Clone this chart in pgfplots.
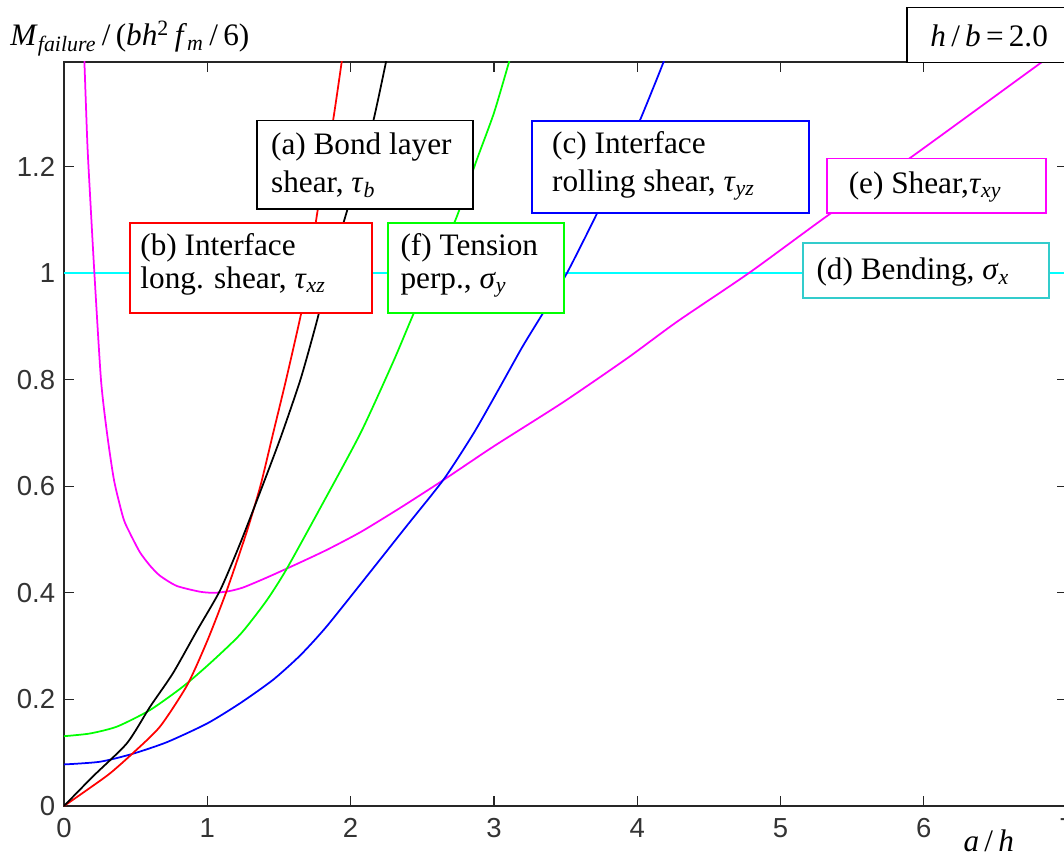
\documentclass[border=0pt]{standalone}
\usepackage{pgfplots}
\pgfplotsset{compat=1.18}
\usepackage{fontspec}
\setmainfont{Liberation Serif}
\newfontfamily\tickfont{Liberation Sans}
\newcommand\boxfont{\fontsize{12.5}{15}\selectfont}
\definecolor{mgreen}{RGB}{0,255,0}
\definecolor{mcyan}{RGB}{0,255,255}
\definecolor{mmag}{RGB}{255,0,255}
\definecolor{boxcyan}{RGB}{51,204,204}
\begin{document}
\begin{tikzpicture}
\useasboundingbox (-25.6pt,-21.2pt) rectangle (400pt,322.4pt);
\begin{axis}[
  anchor=origin, at={(0,0)},
  x=57.32pt, y=213.2pt,
  xmin=0, xmax=7, ymin=0, ymax=1.396,
  xtick={0,1,...,7},
  ytick={0,0.2,0.4,0.6,0.8,1,1.2},
  yticklabels={0,0.2,0.4,0.6,0.8,1,1.2},
  xtick pos=both, ytick pos=both,
  tick align=inside, major tick length=4pt,
  tick style={black!85, line width=0.5pt},
  axis line style={black!85, line width=0.5pt},
  ticklabel style={font=\tickfont\fontsize{11}{13}\selectfont, text=black!80},
  xticklabel style={yshift=-1.5pt},
  /pgf/number format/assume math mode=true,
  every axis plot/.append style={line width=0.7pt},
  curve/.style={smooth, tension=0.4},
  clip=true,
]
% (d) bending
\addplot[mcyan] coordinates {(0,1) (7,1)};
% (e) shear tau_xy
\addplot[mmag, curve] coordinates {
 (0.13,1.50) (0.142,1.40) (0.163,1.243) (0.181,1.15) (0.212,1.0) (0.258,0.80)
 (0.30,0.70) (0.35,0.61) (0.414,0.54) (0.46,0.512) (0.53,0.476) (0.60,0.451)
 (0.67,0.432) (0.786,0.413) (0.95,0.402) (1.05,0.40) (1.15,0.403) (1.25,0.41)
 (1.41,0.428) (1.60,0.451) (1.83,0.48) (2.07,0.514) (2.35,0.56) (2.65,0.612)
 (3.0,0.675) (3.48,0.757) (3.93,0.84) (4.28,0.909) (4.78,1.0) (5.32,1.106)
 (5.9,1.215) (6.81,1.393) (6.9,1.41)};
% (c) rolling shear tau_yz
\addplot[blue, curve] coordinates {
 (0,0.078) (0.25,0.083) (0.48,0.098) (0.72,0.12) (1.0,0.155) (1.23,0.193)
 (1.46,0.237) (1.65,0.283) (1.83,0.336) (2.11,0.43) (2.39,0.525) (2.65,0.613)
 (2.86,0.70) (3.04,0.785) (3.2,0.862) (3.35,0.928) (3.51,1.0) (3.72,1.112)
 (3.87,1.2) (4.02,1.287) (4.19,1.40) (4.21,1.42)};
% (f) tension perp sigma_y
\addplot[mgreen, curve] coordinates {
 (0,0.131) (0.18,0.136) (0.37,0.149) (0.6,0.18) (0.83,0.224) (1.02,0.268)
 (1.23,0.322) (1.41,0.384) (1.55,0.443) (1.79,0.56) (2.07,0.70) (2.3,0.835)
 (2.44,0.924) (2.57,1.0) (2.74,1.105) (2.88,1.212) (3.0,1.3) (3.11,1.40)
 (3.13,1.42)};
% (b) interface long. shear tau_xz
\addplot[red, curve] coordinates {
 (0,0) (0.16,0.03) (0.32,0.061) (0.48,0.099) (0.67,0.149) (0.86,0.227)
 (1.0,0.31) (1.13,0.4) (1.27,0.51) (1.37,0.6) (1.46,0.7) (1.55,0.8)
 (1.65,0.918) (1.71,1.0) (1.76,1.1) (1.82,1.2) (1.88,1.29) (1.94,1.40) (1.95,1.42)};
% (a) bond layer shear tau_b
\addplot[black, curve] coordinates {
 (0,0) (0.2,0.055) (0.44,0.118) (0.6,0.186) (0.76,0.249) (0.93,0.33)
 (1.09,0.405) (1.23,0.493) (1.37,0.59) (1.51,0.69) (1.65,0.80) (1.76,0.905)
 (1.85,1.0) (1.97,1.112) (2.07,1.2) (2.16,1.287) (2.25,1.40) (2.26,1.42)};
\end{axis}
\begin{scope}[x=57.32pt, y=213.2pt, every node/.style={anchor=base west, inner sep=0pt, font=\boxfont}]
% (a)
\draw[black, line width=0.7pt, fill=white] (1.349,1.120) rectangle (2.852,1.286);
\node at (1.442,1.223) {(a) Bond layer};
\node at (1.442,1.151) {shear, \textit{τ}\textsubscript{\textit{b}}};
% (b)
\draw[red, line width=0.7pt, fill=white] (0.461,0.925) rectangle (2.149,1.094);
\node at (0.530,1.032) {(b) Interface};
\node at (0.530,0.971) {long. shear, \textit{τ}\textsubscript{\textit{xz}}};
% (f)
\draw[mgreen, line width=0.7pt, fill=white] (2.261,0.925) rectangle (3.489,1.094);
\node at (2.345,1.032) {(f) Tension};
\node at (2.345,0.971) {perp., \textit{σ}\textsubscript{\textit{y}}};
% (c)
\draw[blue, line width=0.7pt, fill=white] (3.264,1.112) rectangle (5.201,1.285);
\node at (3.403,1.225) {(c) Interface};
\node at (3.403,1.153) {rolling shear, \textit{τ}\textsubscript{\textit{yz}}};
% (e)
\draw[mmag, line width=0.7pt, fill=white] (5.322,1.112) rectangle (6.853,1.215);
\node at (5.473,1.150) {(e) Shear,\textit{τ}\textsubscript{\textit{xy}}};
% (d)
\draw[boxcyan, line width=0.7pt, fill=white] (5.155,0.9525) rectangle (6.876,1.056);
\node at (5.248,0.987) {(d) Bending, \textit{σ}\textsubscript{\textit{x}}};
% h/b
\draw[black, line width=0.7pt, fill=white] (5.881,1.395) rectangle (7.1,1.498);
\node at (6.043,1.425) {\textit{h}\,/\,\textit{b}\,=\,2.0};
% axis titles
\node at (-0.377,1.426) {\textit{M}\textsubscript{\textit{failure}}\,/\,(\textit{bh}\textsuperscript{2}\,\textit{f}\textsubscript{\textit{m}}\,/\,6)};
\node at (6.274,-0.0857) {\textit{a}\,/\,\textit{h}};
\end{scope}
\end{tikzpicture}
\end{document}
